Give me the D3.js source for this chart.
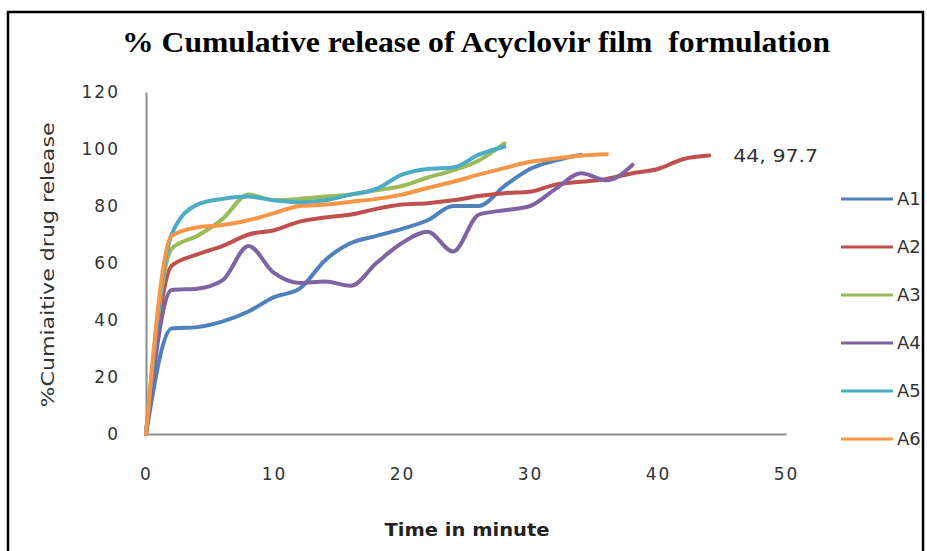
<!DOCTYPE html>
<html><head><meta charset="utf-8">
<script src="https://cdn.jsdelivr.net/npm/d3@7"></script>
<style>body{margin:0;background:#fff}svg{display:block}</style>
</head><body>
<svg id="c" width="927" height="551"></svg>
<script>
const seriesNames = ["A1","A2","A3","A4","A5","A6"];
const colors = ["#4F81BD","#C0504D","#9BBB59","#8064A2","#4BACC6","#F79646"];
const times = [0,2,4,6,8,10,12,14,16,18,20,22,24,26,28,30,32,34,36,38,40,42,44];
const A1 = [0,37,37.5,39.5,43,48,51,61,67,69.5,72,75,80,80,87,93,96,98];
const A2 = [0,59,63,66,70,71.5,74.5,76,77,79,80.5,81,82,83.5,84.5,85,87.5,88.5,89.5,91.5,93,96.5,97.7];
const A3 = [0,65,69.5,75.5,84,82,82.5,83.3,84,85.5,87,90,92.5,96,102];
const A4 = [0,50.5,51,54,66,56.5,53,53.5,52,60,67,71,64,77,78.5,80,86,91.5,89,94.4];
const A5 = [0,70,80.5,82.5,83.3,82,81.3,82,84,86,91,93,93.5,98,100.8];
const A6 = [0,69.5,72.5,73.3,75,77.5,80,80.5,81.5,82.5,84,86.3,88.5,91,93.3,95.5,96.7,97.7,98.2];
const seriesValues = [A1,A2,A3,A4,A5,A6];
const xTicks = [0,10,20,30,40,50];
const yTicks = [0,20,40,60,80,100,120];
const title = "% Cumulative release of Acyclovir film  formulation";
const xTitle = "Time in minute";
const yTitle = "%Cumiaitive drug release";
const dataLabel = {x:44, y:97.7, text:"44, 97.7"};

const svg = d3.select("#c");
svg.append("rect").attr("x",8).attr("y",12).attr("width",915).attr("height",560)
  .attr("fill","none").attr("stroke","#000").attr("stroke-width",2.5);

const x = d3.scaleLinear().domain([0,50]).range([146,786]);
const y = d3.scaleLinear().domain([0,120]).range([434,92]);

svg.append("text").attr("x",476).attr("y",52).attr("text-anchor","middle")
  .style("white-space","pre")
  .attr("font-family","Liberation Serif, serif").attr("font-weight","bold")
  .attr("font-size",30).attr("textLength",708).attr("lengthAdjust","spacingAndGlyphs")
  .text(title);

const xa = svg.append("g").attr("transform","translate(0,434)")
  .call(d3.axisBottom(x).tickValues(xTicks).tickSize(0).tickPadding(34));
const ya = svg.append("g").attr("transform","translate(146,0)")
  .call(d3.axisLeft(y).tickValues(yTicks).tickSize(0).tickPadding(26));
[xa,ya].forEach(a=>{
  a.select(".domain").attr("stroke","#8c8c8c").attr("stroke-width",2);
  a.selectAll("text").attr("font-family","DejaVu Sans, sans-serif").attr("font-size",17)
    .attr("letter-spacing","2px").attr("fill","#333");
});

svg.append("text").attr("x",467).attr("y",536).attr("text-anchor","middle")
  .attr("font-family","DejaVu Sans, sans-serif").attr("font-size",18).attr("font-weight","bold").attr("fill","#222")
  .attr("textLength",165).attr("lengthAdjust","spacingAndGlyphs")
  .text(xTitle);
svg.append("text").attr("transform","translate(54,265) rotate(-90)").attr("text-anchor","middle")
  .attr("font-family","DejaVu Sans, sans-serif").attr("font-size",18).attr("fill","#333")
  .attr("textLength",285).attr("lengthAdjust","spacingAndGlyphs")
  .text(yTitle);

const line = d3.line().x((d,i)=>x(times[i])).y(d=>y(d)).curve(d3.curveMonotoneX);
seriesValues.forEach((vals,k)=>{
  svg.append("path").datum(vals).attr("d",line).attr("fill","none")
    .attr("stroke",colors[k]).attr("stroke-width",4).attr("stroke-linejoin","round").attr("stroke-linecap","round");
});

svg.append("text").attr("x",x(dataLabel.x)+24).attr("y",y(dataLabel.y)+6)
  .attr("font-family","DejaVu Sans, sans-serif").attr("font-size",18).attr("fill","#333")
  .attr("textLength",85).attr("lengthAdjust","spacingAndGlyphs")
  .text(dataLabel.text);

const lg = svg.append("g");
seriesNames.forEach((n,k)=>{
  const yy = 199 + k*48;
  lg.append("line").attr("x1",841).attr("x2",893).attr("y1",yy).attr("y2",yy)
    .attr("stroke",colors[k]).attr("stroke-width",3);
  lg.append("text").attr("x",897).attr("y",yy+6).attr("font-family","DejaVu Sans, sans-serif")
    .attr("font-size",18).attr("fill","#333").text(n);
});
</script>
</body></html>
